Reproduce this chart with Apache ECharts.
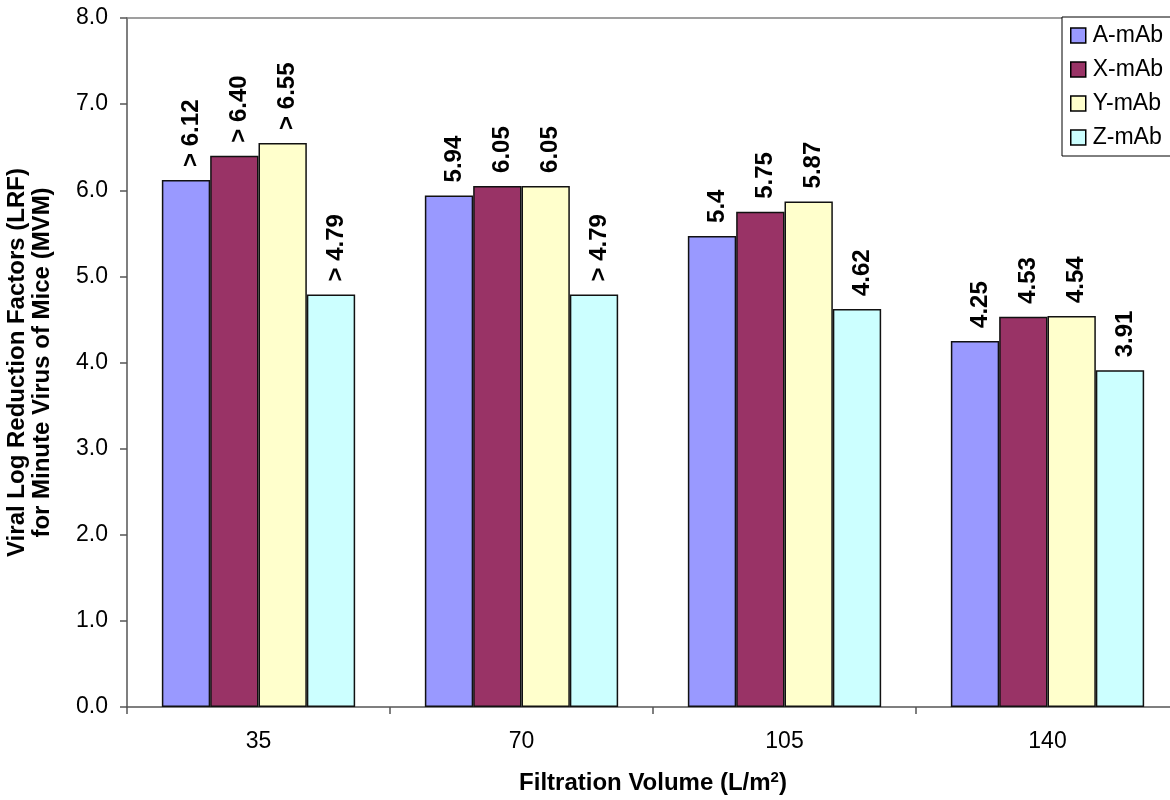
<!DOCTYPE html>
<html><head><meta charset="utf-8">
<script src="https://cdn.jsdelivr.net/npm/echarts@6/dist/echarts.min.js"></script>
<style>html,body{margin:0;padding:0;background:#fff}#c{width:1170px;height:800px}</style>
</head><body><div id="c"></div>
<script>
const categories = ['35', '70', '105', '140'];
const seriesNames = ['A-mAb', 'X-mAb', 'Y-mAb', 'Z-mAb'];
const aValues = [6.12, 5.94, 5.47, 4.25];
const xValues = [6.40, 6.05, 5.75, 4.53];
const yValues = [6.55, 6.05, 5.87, 4.54];
const zValues = [4.79, 4.79, 4.62, 3.91];
const aLabels = ['> 6.12', '5.94', '5.4', '4.25'];
const xLabels = ['> 6.40', '6.05', '5.75', '4.53'];
const yLabels = ['> 6.55', '6.05', '5.87', '4.54'];
const zLabels = ['> 4.79', '> 4.79', '4.62', '3.91'];
const colors = ['#9999FF', '#993366', '#FFFFCC', '#CCFFFF'];

const FONT = 'Liberation Sans, Arial, sans-serif';
const vals = [aValues, xValues, yValues, zValues];
const labs = [aLabels, xLabels, yLabels, zLabels];

const chart = echarts.init(document.getElementById('c'));
chart.setOption({
  animation: false,
  grid: { left: 127, right: -9, top: 18, bottom: 93, outerBoundsMode: 'none', containLabel: false },
  legend: {
    orient: 'vertical', left: 1062, top: 17,
    data: seriesNames,
    backgroundColor: '#fff',
    borderColor: '#000', borderWidth: 1,
    padding: [7, 20, 7, 8],
    itemWidth: 15, itemHeight: 15, itemGap: 11,
    icon: 'rect',
    itemStyle: { borderColor: '#000', borderWidth: 1.5 },
    textStyle: { fontFamily: FONT, fontSize: 23, lineHeight: 23, color: '#000', padding: [0, 0, 0, 2] }
  },
  xAxis: [{
    type: 'category', data: categories,
    axisLine: { lineStyle: { color: '#555', width: 1.5 } },
    axisTick: { show: true, length: 7, lineStyle: { color: '#555', width: 1.5 } },
    axisLabel: { fontFamily: FONT, fontSize: 23, color: '#000', margin: 23 },
    name: 'Filtration Volume (L/m{sup|2})',
    nameLocation: 'middle', nameGap: 63,
    nameTextStyle: {
      fontFamily: FONT, fontSize: 24, fontWeight: 'bold', color: '#000',
      rich: { sup: { fontFamily: FONT, fontSize: 15, fontWeight: 'bold', verticalAlign: 'top', padding: [0, 0, 12, 0] } }
    }
  }, {
    type: 'category', data: categories, position: 'top',
    axisLine: { show: true, lineStyle: { color: '#808080', width: 1.5 } },
    axisTick: { show: false }, axisLabel: { show: false }
  }],
  yAxis: {
    type: 'value', min: 0, max: 8, interval: 1,
    axisLine: { show: true, lineStyle: { color: '#555', width: 1.5 } },
    axisTick: { show: true, length: 7, lineStyle: { color: '#555', width: 1.5 } },
    splitLine: { show: false },
    axisLabel: { fontFamily: FONT, fontSize: 23, color: '#000', margin: 19, formatter: v => v.toFixed(1) },
    name: 'Viral Log Reduction Factors (LRF)\nfor Minute Virus of Mice (MVM)',
    nameLocation: 'middle', nameGap: 72,
    nameTextStyle: { fontFamily: FONT, fontSize: 24, fontWeight: 'bold', color: '#000', lineHeight: 25 }
  },
  series: seriesNames.map((n, i) => ({
    name: n, type: 'bar',
    data: vals[i],
    barGap: '0%', barCategoryGap: '26.5%',
    itemStyle: { color: colors[i], borderColor: '#111', borderWidth: 1.5 },
    label: {
      show: true, position: 'top', rotate: 90, align: 'left', verticalAlign: 'middle',
      distance: 13, offset: [0, 5],
      fontFamily: FONT, fontSize: 24, fontWeight: 'bold', color: '#000',
      formatter: p => labs[i][p.dataIndex]
    }
  }))
});
</script></body></html>
